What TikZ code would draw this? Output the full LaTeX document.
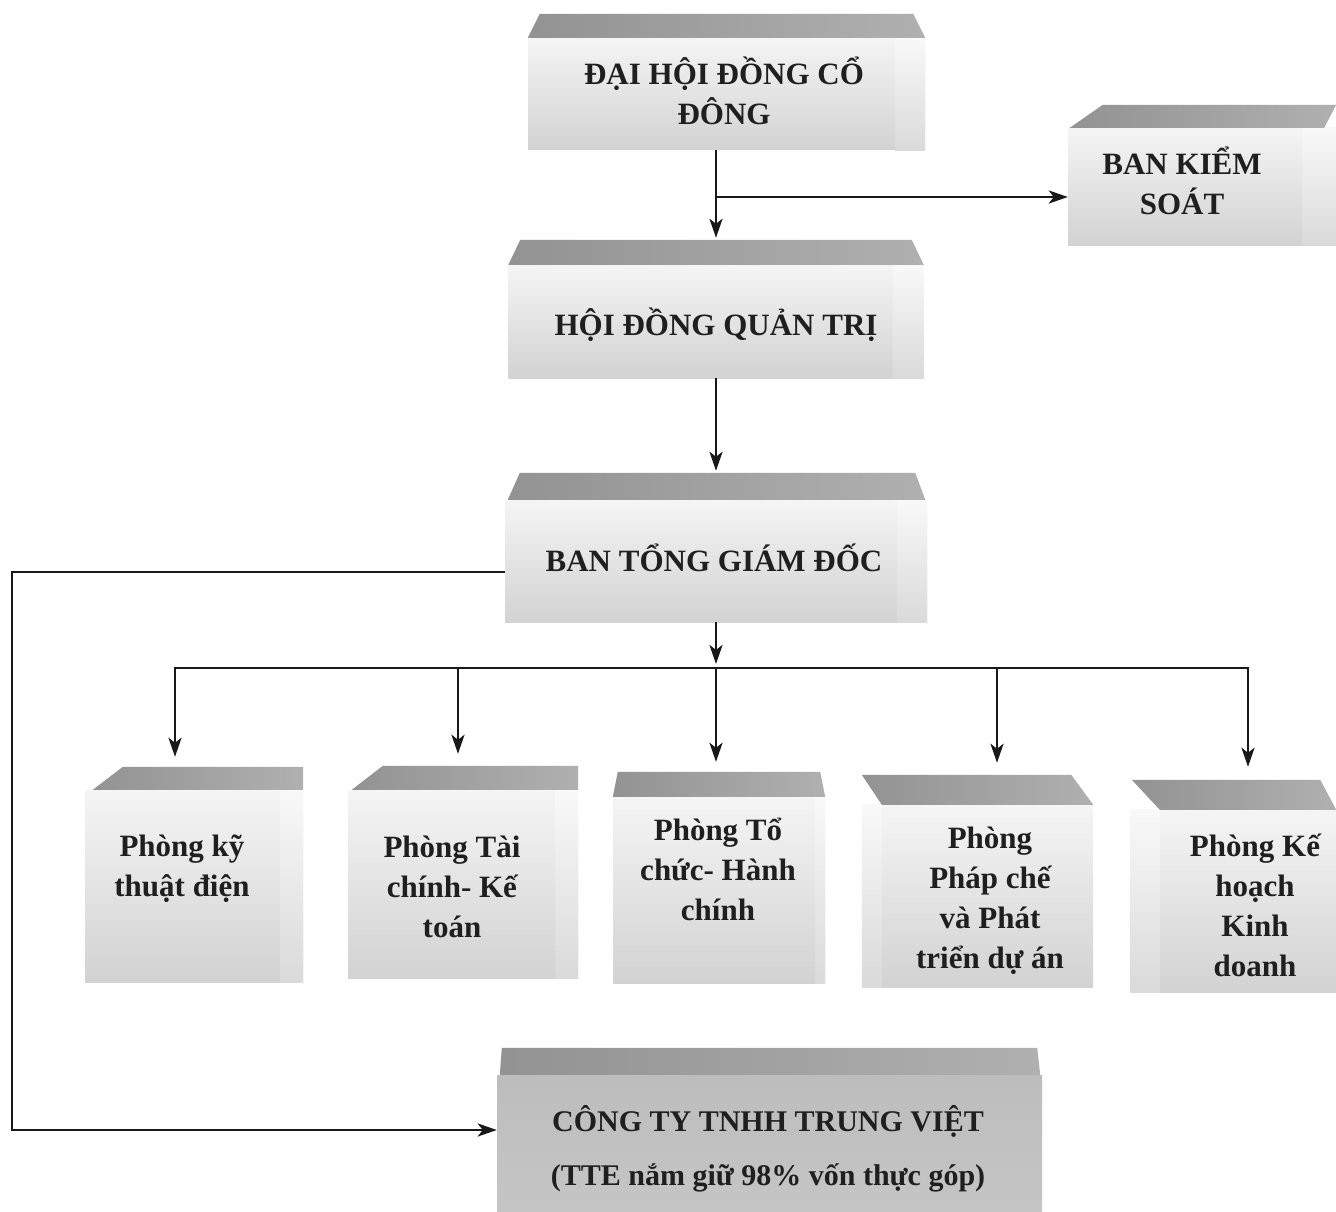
\documentclass[tikz,border=0pt]{standalone}
\usepackage{fontspec}
\setmainfont{Liberation Serif}
\usetikzlibrary{calc,arrows.meta}
\newcommand\faceTop[6]{\path[topf] ($(#1.north west)+(#2,0)$) -- ($(#1.north west)+(#3,-#6)$) -- ($(#1.north east)+(-#4,-#6)$) -- ($(#1.north east)+(-#5,0)$) -- cycle;}
\newcommand\sideR[2]{\path[sidef] ($(#1.north east)+(-#2,0)$) rectangle (#1.south east);}
\newcommand\sideL[2]{\path[sidef] (#1.north west) rectangle ($(#1.south west)+(#2,0)$);}
\begin{document}
\begin{tikzpicture}[x=1pt,y=-1pt,
  txt/.style={font=\fontsize{31}{40}\selectfont\bfseries, text=black!88, align=center, inner sep=0pt},
  box/.style={inner sep=0pt, draw=none, top color=gray!8, bottom color=gray!35},
  darkbox/.style={inner sep=0pt, draw=none, top color=gray!52, bottom color=gray!45},
  topf/.style={left color=gray!85, right color=gray!62},
  sidef/.style={top color=gray!5, bottom color=gray!29},
  link/.style={line width=2.8pt, black!90},
  arr/.style={link, -{Stealth[length=19pt,width=13pt,inset=5pt]}},
]
\useasboundingbox (0,0) rectangle (1336,1212);
\fill[white] (0,0) rectangle (1336,1212);

% ---- boxes ----
\node[box, minimum width=397, minimum height=112] (dh) at (726.5,94) {};
\sideR{dh}{30}\faceTop{dh}{0}{12}{12}{0}{24}
\node[txt] (dh-t) at (724,91) {ĐẠI HỘI ĐỒNG CỔ\\ĐÔNG};

\node[box, minimum width=268, minimum height=117] (bks) at (1202,186.5) {};
\sideR{bks}{34}\faceTop{bks}{2}{35}{0}{12}{23}
\node[txt] (bks-t) at (1182,181) {BAN KIỂM\\SOÁT};

\node[box, minimum width=415, minimum height=113] (hd) at (716,321.5) {};
\sideR{hd}{30}\faceTop{hd}{0}{12}{12}{0}{25}
\node[txt] (hd-t) at (716,325) {HỘI ĐỒNG QUẢN TRỊ};

\node[box, minimum width=422, minimum height=122] (bt) at (716,561) {};
\sideR{bt}{30}\faceTop{bt}{3}{15}{12}{2}{27}
\node[txt] (bt-t) at (714,558) {BAN TỔNG GIÁM ĐỐC};

\node[box, minimum width=218, minimum height=192] (pA) at (194,886) {};
\sideR{pA}{23}\faceTop{pA}{8}{38}{0}{0}{23}
\node[txt] (pA-t) at (182,869) {Phòng kỹ\\thuật điện};

\node[box, minimum width=230, minimum height=188] (pB) at (463,884) {};
\sideR{pB}{23}\faceTop{pB}{4}{35}{0}{0}{24}
\node[txt] (pB-t) at (452,887) {Phòng Tài\\chính- Kế\\toán};

\node[box, minimum width=212, minimum height=186] (pC) at (719,890) {};
\sideR{pC}{10}\faceTop{pC}{0}{5}{5}{0}{25}
\node[txt] (pC-t) at (718,869) {Phòng Tổ\\chức- Hành\\chính};

\node[box, minimum width=231, minimum height=182] (pD) at (977.5,896) {};
\sideL{pD}{20}\faceTop{pD}{20}{0}{22}{0}{30}
\node[txt] (pD-t) at (990,901) {Phòng\\Pháp chế\\và Phát\\triển dự án};

\node[box, minimum width=206, minimum height=182] (pE) at (1233,901) {};
\sideL{pE}{30}\faceTop{pE}{30}{2}{16}{0}{30}
\node[txt] (pE-t) at (1255,905) {Phòng Kế\\hoạch\\Kinh\\doanh};

\node[darkbox, minimum width=545, minimum height=142] (ct) at (769.5,1146) {};
\faceTop{ct}{3}{5}{5}{2}{27}
\node[txt, font=\fontsize{30}{54}\selectfont\bfseries] (ct-t) at (768,1149) {CÔNG TY TNHH TRUNG VIỆT\\(TTE nắm giữ 98\% vốn thực góp)};

% ---- connectors ----
\coordinate (j1) at (716,197);
\draw[arr] (hd.north |- dh.south) -- ($(hd.north)+(0,-27)$);
\draw[arr] (j1) -- (j1 -| bks.west);
\draw[arr] (hd.south) -- ($(bt.north)+(0,-29)$);

\coordinate (bus) at (716,668);
\coordinate (bA) at (175,668);
\coordinate (bB) at (458,668);
\coordinate (bD) at (997,668);
\coordinate (bE) at (1248,668);
\draw[arr] (bt.south) -- ($(bus)+(0,-4)$);
\draw[arr] (bus) -| ($(bA |- pA.north)+(0,-33)$);
\draw[arr] (bus) -| ($(bE |- pE.north)+(0,-43)$);
\draw[arr] (bB) -- ($(bB |- pB.north)+(0,-36)$);
\draw[arr] (bus) -- ($(bus |- pC.north)+(0,-35)$);
\draw[arr] (bD) -- ($(bD |- pD.north)+(0,-42)$);

\coordinate (k1) at (12,572);
\coordinate (k2) at (12,1130);
\draw[arr] (k1 -| bt.west) -- (k1) -- (k2) -- (k2 -| ct.west);
\end{tikzpicture}
\end{document}
